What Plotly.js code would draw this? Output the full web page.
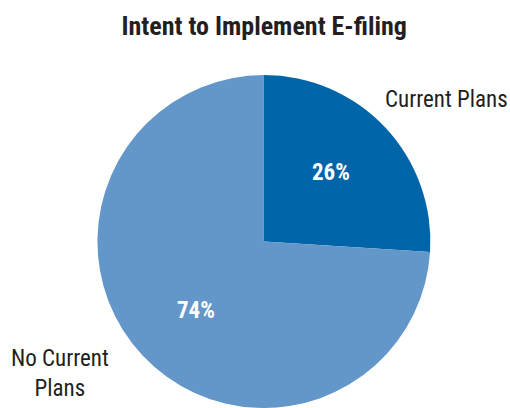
<!DOCTYPE html>
<html><head><meta charset="utf-8">
<script src="https://cdn.plot.ly/plotly-3.0.1.min.js"></script>
<style>html,body{margin:0;padding:0;background:#fff}</style>
</head><body>
<div id="chart" style="width:510px;height:408px"></div>
<script>
const categories = ["Current Plans", "No Current Plans"];
const values = [26, 74];
const colors = ["#0064A8", "#6396C9"];
const labelTexts = ["Current Plans", "No Current<br>Plans"];
const titleText = "Intent to Implement E-filing";
const FONT = "Liberation Sans Narrow, Roboto Condensed, Arial Narrow, Liberation Sans, sans-serif";

const data = [{
  type: "pie",
  labels: categories,
  values: values,
  sort: false,
  direction: "clockwise",
  rotation: 0,
  marker: {colors: colors, line: {width: 0}},
  textinfo: "none",
  hoverinfo: "none",
  showlegend: false,
  domain: {x: [0.19, 0.845], y: [0, 0.816]}
}];

// pixel positions (layout) for labels
const pctPos = [[331, 172], [196, 310]];
const catPos = [[446, 99], [60, 373]];

const annotations = [];
values.forEach((v, i) => {
  annotations.push({text: "<b>" + v + "%</b>", x: pctPos[i][0] / 510, y: 1 - pctPos[i][1] / 408,
    xref: "paper", yref: "paper", showarrow: false, xanchor: "center", yanchor: "middle",
    font: {family: FONT, size: 23, color: "#ffffff"}});
  annotations.push({text: labelTexts[i], x: catPos[i][0] / 510, y: 1 - catPos[i][1] / 408,
    xref: "paper", yref: "paper", showarrow: false, xanchor: "center", yanchor: "middle",
    font: {family: FONT, size: 23, color: "#231f20"}});
});

const layout = {
  width: 510, height: 408,
  margin: {l: 0, r: 0, t: 0, b: 0},
  paper_bgcolor: "#ffffff",
  title: {text: "<b>" + titleText + "</b>", font: {family: FONT, size: 26, color: "#231f20"}, x: 0.518, xanchor: "center", y: 0.937, yanchor: "middle"},
  annotations: annotations
};

Plotly.newPlot("chart", data, layout, {displayModeBar: false, staticPlot: true});
</script>
</body></html>
